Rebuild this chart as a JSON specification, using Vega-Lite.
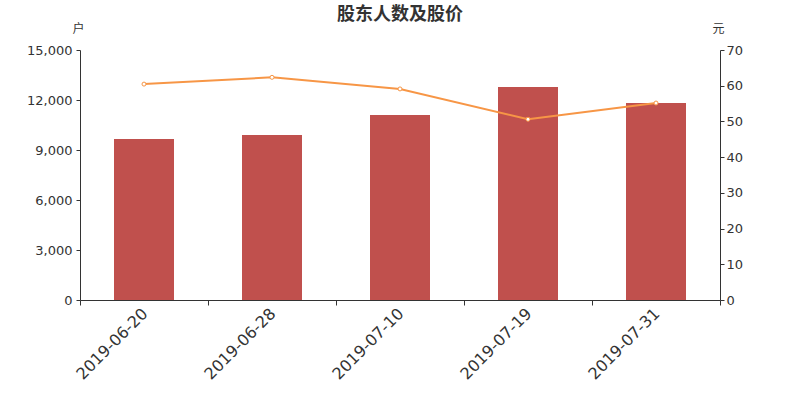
{
  "$schema": "https://vega.github.io/schema/vega-lite/v6.json",
  "width": 640,
  "height": 250,
  "autosize": {"type": "none"},
  "padding": {"left": 80, "top": 50, "right": 80, "bottom": 100},
  "background": "white",
  "title": {"text": "股东人数及股价", "font": "Noto Sans CJK SC", "fontSize": 18, "fontWeight": "bold", "color": "#333333", "anchor": "middle", "offset": -2},
  "config": {"view": {"stroke": null}, "axis": {"grid": false, "domainColor": "#333333", "tickColor": "#333333", "labelColor": "#333333", "titleColor": "#333333", "labelFont": "DejaVu Sans", "titleFont": "Noto Sans CJK SC"}},
  "data": {"values": [
    {"date": "2019-06-20", "holders": 9660, "price": 60.45},
    {"date": "2019-06-28", "holders": 9900, "price": 62.35},
    {"date": "2019-07-10", "holders": 11100, "price": 59.1},
    {"date": "2019-07-19", "holders": 12780, "price": 50.6},
    {"date": "2019-07-31", "holders": 11820, "price": 55.15}
  ]},
  "encoding": {
    "x": {"field": "date", "type": "nominal", "sort": null, "scale": {"paddingInner": 0, "paddingOuter": 0},
      "axis": {"title": null, "labelAngle": -45, "labelFontSize": 16, "tickBand": "extent", "tickSize": 5, "labelPadding": 0, "labelOffset": -5, "domainWidth": 1}}
  },
  "layer": [
    {"mark": {"type": "bar", "color": "#c0504d", "width": 60},
     "encoding": {"y": {"field": "holders", "type": "quantitative", "scale": {"domain": [0, 15000]},
       "axis": {"values": [0, 3000, 6000, 9000, 12000, 15000], "format": ",.0f", "labelFontSize": 13, "tickSize": 4, "labelPadding": 4, "title": "户", "titleAngle": 0, "titleX": -2, "titleY": -22, "titleFontSize": 12, "titleFontWeight": "normal", "titleAlign": "center", "titleBaseline": "middle"}}}},
    {"mark": {"type": "line", "color": "#f79646", "strokeWidth": 2, "point": {"filled": true, "fill": "white", "stroke": "#f79646", "strokeWidth": 1, "size": 16}},
     "encoding": {"y": {"field": "price", "type": "quantitative", "scale": {"domain": [0, 70]},
       "axis": {"orient": "right", "values": [0, 10, 20, 30, 40, 50, 60, 70], "labelFontSize": 13, "tickSize": 4, "title": "元", "titleAngle": 0, "titleX": -2, "titleY": -22, "titleFontSize": 12, "titleFontWeight": "normal", "titleAlign": "center", "titleBaseline": "middle"}}}}
  ],
  "resolve": {"scale": {"y": "independent"}}
}
